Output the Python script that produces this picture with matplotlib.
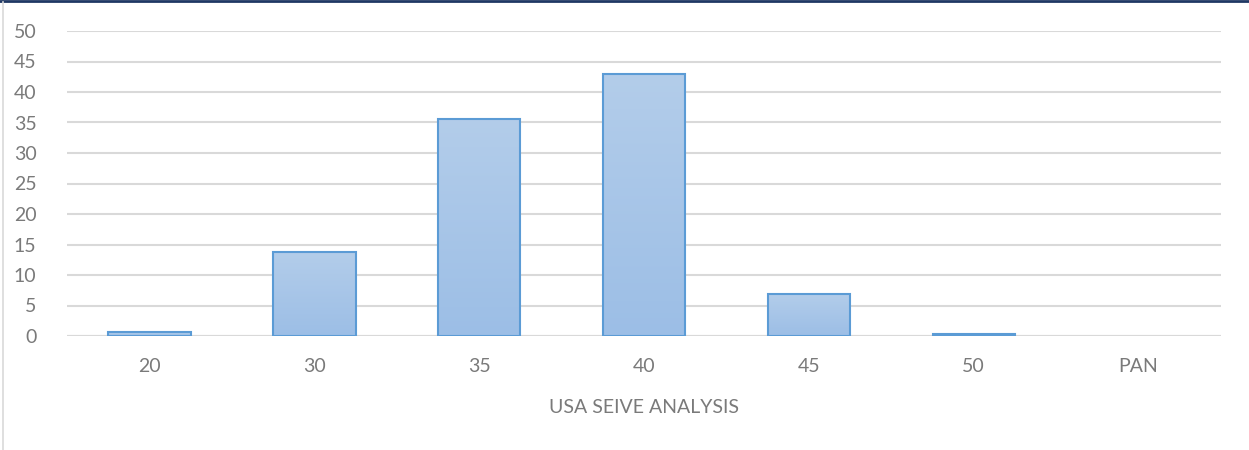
import matplotlib
matplotlib.use("Agg")
import matplotlib.pyplot as plt
import numpy as np
from matplotlib.colors import LinearSegmentedColormap
from matplotlib.lines import Line2D

categories = ["20", "30", "35", "40", "45", "50", "PAN"]
values = [0.6, 13.7, 35.6, 42.9, 6.9, 0.3, 0.0]
yticks = [0, 5, 10, 15, 20, 25, 30, 35, 40, 45, 50]
xlabel = "USA SEIVE ANALYSIS"

plt.rcParams['font.family'] = ['Lato', 'DejaVu Sans']
txt = '#7a7a7a'

fig = plt.figure(figsize=(12.49, 4.5), dpi=100)
ax = fig.add_axes([67/1249, 1-336/450, (1221-67)/1249, (336-31)/450])

x = np.arange(len(categories))
lws = [1.5 if v > 0 else 0 for v in values]
bars = ax.bar(x, values, width=0.5, facecolor='none', edgecolor='#5b9bd5', linewidth=lws, zorder=3)

cmap = LinearSegmentedColormap.from_list('g', ['#9cbee6', '#b3cdea'])
grad = np.linspace(0, 1, 256).reshape(-1, 1)
for b in bars:
    h = b.get_height()
    if h <= 0:
        continue
    x0 = b.get_x()
    w = b.get_width()
    im = ax.imshow(grad, cmap=cmap, origin='lower', aspect='auto',
                   extent=[x0, x0 + w, 0, h], zorder=2)
    im.set_clip_path(b)

ax.set_xlim(-0.5, len(categories) - 0.5)
ax.set_ylim(0, 50)
ax.set_yticks(yticks)
ax.set_yticklabels([str(t) for t in yticks])
ax.set_xticks(x)
ax.set_xticklabels(categories)
ax.yaxis.grid(True, color='#d9d9d9', linewidth=1.5, zorder=0)
ax.set_axisbelow(True)
for s in ax.spines.values():
    s.set_visible(False)
ax.axhline(0, color='#d9d9d9', linewidth=1.5, zorder=1)
ax.tick_params(axis='both', length=0, labelsize=14, colors=txt)
ax.tick_params(axis='y', pad=22)
ax.tick_params(axis='x', pad=16)
ax.set_xlabel(xlabel, fontsize=14, color=txt, labelpad=17)

# outer frame decorations
fig.add_artist(Line2D([0, 1], [1 - 1/450, 1 - 1/450], transform=fig.transFigure, color='#1f3864', linewidth=2))
fig.add_artist(Line2D([3/1249, 3/1249], [0, 1 - 2/450], transform=fig.transFigure, color='#d9d9d9', linewidth=1.2))

fig.savefig('out.png', dpi=100)
